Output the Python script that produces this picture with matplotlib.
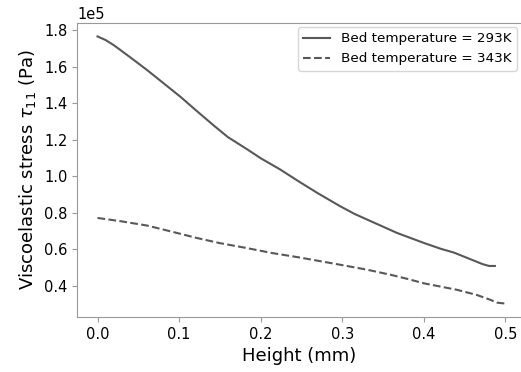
import numpy as np
import matplotlib
matplotlib.use("Agg")
import matplotlib.pyplot as plt

# Height (mm) and viscoelastic stress (1e5 Pa)
h_293 = [0.0, 0.01, 0.02, 0.04, 0.061, 0.08, 0.102, 0.12, 0.1425, 0.16, 0.183,
         0.20, 0.224, 0.247, 0.269, 0.297, 0.315, 0.335, 0.367, 0.400, 0.42,
         0.437, 0.457, 0.472, 0.480, 0.487]
s_293 = [1.765, 1.745, 1.717, 1.651, 1.580, 1.512, 1.433, 1.363, 1.277, 1.213,
         1.148, 1.098, 1.036, 0.970, 0.909, 0.836, 0.793, 0.753, 0.689, 0.634,
         0.603, 0.581, 0.545, 0.518, 0.508, 0.508]

h_343 = [0.0, 0.03, 0.061, 0.09, 0.122, 0.15, 0.183, 0.215, 0.247, 0.297, 0.33,
         0.359, 0.38, 0.40, 0.441, 0.465, 0.48, 0.49, 0.50]
s_343 = [0.771, 0.752, 0.729, 0.697, 0.661, 0.633, 0.606, 0.578, 0.555, 0.515,
         0.488, 0.460, 0.437, 0.413, 0.377, 0.349, 0.325, 0.307, 0.302]

labels = ["Bed temperature = 293K", "Bed temperature = 343K"]

fig = plt.figure(figsize=(5.21, 3.72), dpi=100)
# the original is cropped on the right, so the frame runs to the edge
ax = fig.add_axes([0.148, 0.148, 0.852, 0.790])

line_col = "#585858"
ax.plot(h_293, np.array(s_293) * 1e5, color=line_col, lw=1.5, ls="-", label=labels[0])
ax.plot(h_343, np.array(s_343) * 1e5, color=line_col, lw=1.5, ls="--", label=labels[1])

ax.set_xlim(-0.025, 0.519)
ax.set_xticks([0.0, 0.1, 0.2, 0.3, 0.4, 0.5])
ax.set_yticks(np.array([0.4, 0.6, 0.8, 1.0, 1.2, 1.4, 1.6, 1.8]) * 1e5)
ax.ticklabel_format(axis="y", style="sci", scilimits=(0, 0))
ax.tick_params(labelsize=10.5, color="#999999")
for s in ax.spines.values():
    s.set_color("#999999")
ax.spines["right"].set_visible(False)

ax.set_xlabel("Height (mm)", fontsize=13)
ax.set_ylabel(r"Viscoelastic stress $\tau_{11}$ (Pa)", fontsize=13)
ax.yaxis.get_offset_text().set_fontsize(10.5)

ax.legend(loc="upper right", fontsize=9.7, borderaxespad=0.3)

fig.savefig("out.png", dpi=100)
